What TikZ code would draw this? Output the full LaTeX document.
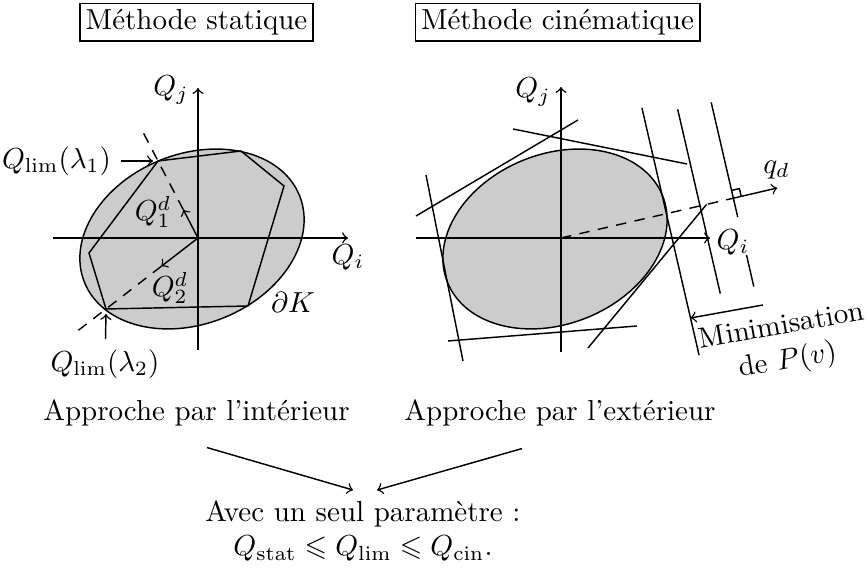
\documentclass[tikz,border=0pt]{standalone}
\usepackage{amssymb}
\usetikzlibrary{calc}
\begin{document}
\begin{tikzpicture}[x=0.345pt,y=-0.345pt,>=to,line width=0.5pt,
  region/.style={draw,fill=black!20},
  titlebox/.style={draw,inner sep=2pt},
  dsh/.style={dash pattern=on 3.6pt off 2.9pt}]
\useasboundingbox (0,0) rectangle (867,575);
% titles
\node[titlebox] (t1) at (196.5,22.5) {Méthode statique};
\node[titlebox] (t2) at (557.5,22.5) {Méthode cinématique};
% ---------- left diagram ----------
\coordinate (O1) at (198,238);
\draw[region,rotate around={22:(192,239)}] (192,239) ellipse [x radius=40pt,y radius=29.3pt];
\coordinate (A1) at (158,161);
\coordinate (A2) at (241,151);
\coordinate (A3) at (284,186);
\coordinate (A4) at (248,306);
\coordinate (A5) at (106,309);
\coordinate (A6) at (89,253);
\draw (A1) -- (A2) -- (A3) -- (A4) -- (A5) -- (A6) -- cycle;
\coordinate (X1a) at (53,238);
\coordinate (X1b) at (348,238);
\coordinate (Y1a) at (198,350);
\coordinate (Y1b) at (198,88);
\draw[->] (X1a) -- (X1b);
\draw[->] (Y1a) -- (Y1b);
\node (qi1) at (348,257) {$Q_i$};
\node (qj1) at (171,90) {$Q_j$};
\draw[->] (O1) -- ($(O1)!0.37!(A1)$);
\draw[dsh] ($(O1)!0.37!(A1)$) -- ($(O1)!1.4!(A1)$);
\draw[->] (O1) -- ($(O1)!0.40!(A5)$);
\draw[dsh] ($(O1)!0.40!(A5)$) -- ($(O1)!1.3!(A5)$);
\node (q1d) at (153,212) {$Q_1^d$};
\node (q2d) at (170,288) {$Q_2^d$};
\node (dK) at (293,302) {$\partial K$};
\node (L1) at (56.5,161) {$Q_{\lim}(\lambda_1)$};
\coordinate (A1e) at ($(A1)+(-5,0)$);
\draw[->] (L1) -- (A1e);
\node (L2) at (105,364) {$Q_{\lim}(\lambda_2)$};
\coordinate (A5e) at ($(A5)+(0,5)$);
\draw[->] (L2) -- (A5e);
% ---------- right diagram ----------
\coordinate (O2) at (561,238);
\draw[region,rotate around={22:(555,239)}] (555,239) ellipse [x radius=40pt,y radius=29.3pt];
\coordinate (X2a) at (416,238);
\coordinate (X2b) at (710,238);
\coordinate (Y2a) at (561,352);
\coordinate (Y2b) at (561,87);
\draw[->] (X2a) -- (X2b);
\draw[->] (Y2a) -- (Y2b);
\node (qi2) at (733,242) {$Q_i$};
\node (qj2) at (533,92) {$Q_j$};
% tangent lines
\draw (416,216) -- (578,120);
\draw (513,129) -- (687,164);
\draw (426,175) -- (463,361);
\draw (448,341) -- (637,326);
\coordinate (apex) at (706.6,204.4);
\draw (588,348) -- (apex);
% parallel lines
\draw (641.9,107.8) -- (699.1,355.2);
\draw (677.7,109.4) -- (720.3,293.6);
\draw (711.2,102.4) -- (737.7,217);
\draw (746.5,255) -- (753.8,286.6);
% q_d axis
\coordinate (I) at (733.4,198.2);
\coordinate (qtip) at (777.3,188);
\draw[dsh] (O2) -- (I);
\draw[->] (I) -- (qtip);
\draw (741.2,196.4) -- (739.4,188.6) -- (731.6,190.4);
\node (qd) at (776.5,170) {$q_d$};
% minimisation
\coordinate (m1) at (763,305);
\coordinate (m2) at (690.5,318);
\draw[->] (m1) -- (m2);
\node[rotate=10,align=center] (mini) at (785,345) {Minimisation\\de $P(v)$};
% ---------- bottom ----------
\node (ai) at (196.5,413) {Approche par l’intérieur};
\node (ae) at (560,413) {Approche par l’extérieur};
\node[align=center] (av) at (363,531) {Avec un seul paramètre :\\$Q_{\mathrm{stat}}\leqslant Q_{\lim}\leqslant Q_{\mathrm{cin}}$.};
\draw[->] ($(ai.south)+(10.5,11)$) -- ($(av.north)+(-10,0)$);
\draw[->] ($(ae.south)+(-38,12)$) -- ($(av.north)+(14,0)$);
\end{tikzpicture}
\end{document}
